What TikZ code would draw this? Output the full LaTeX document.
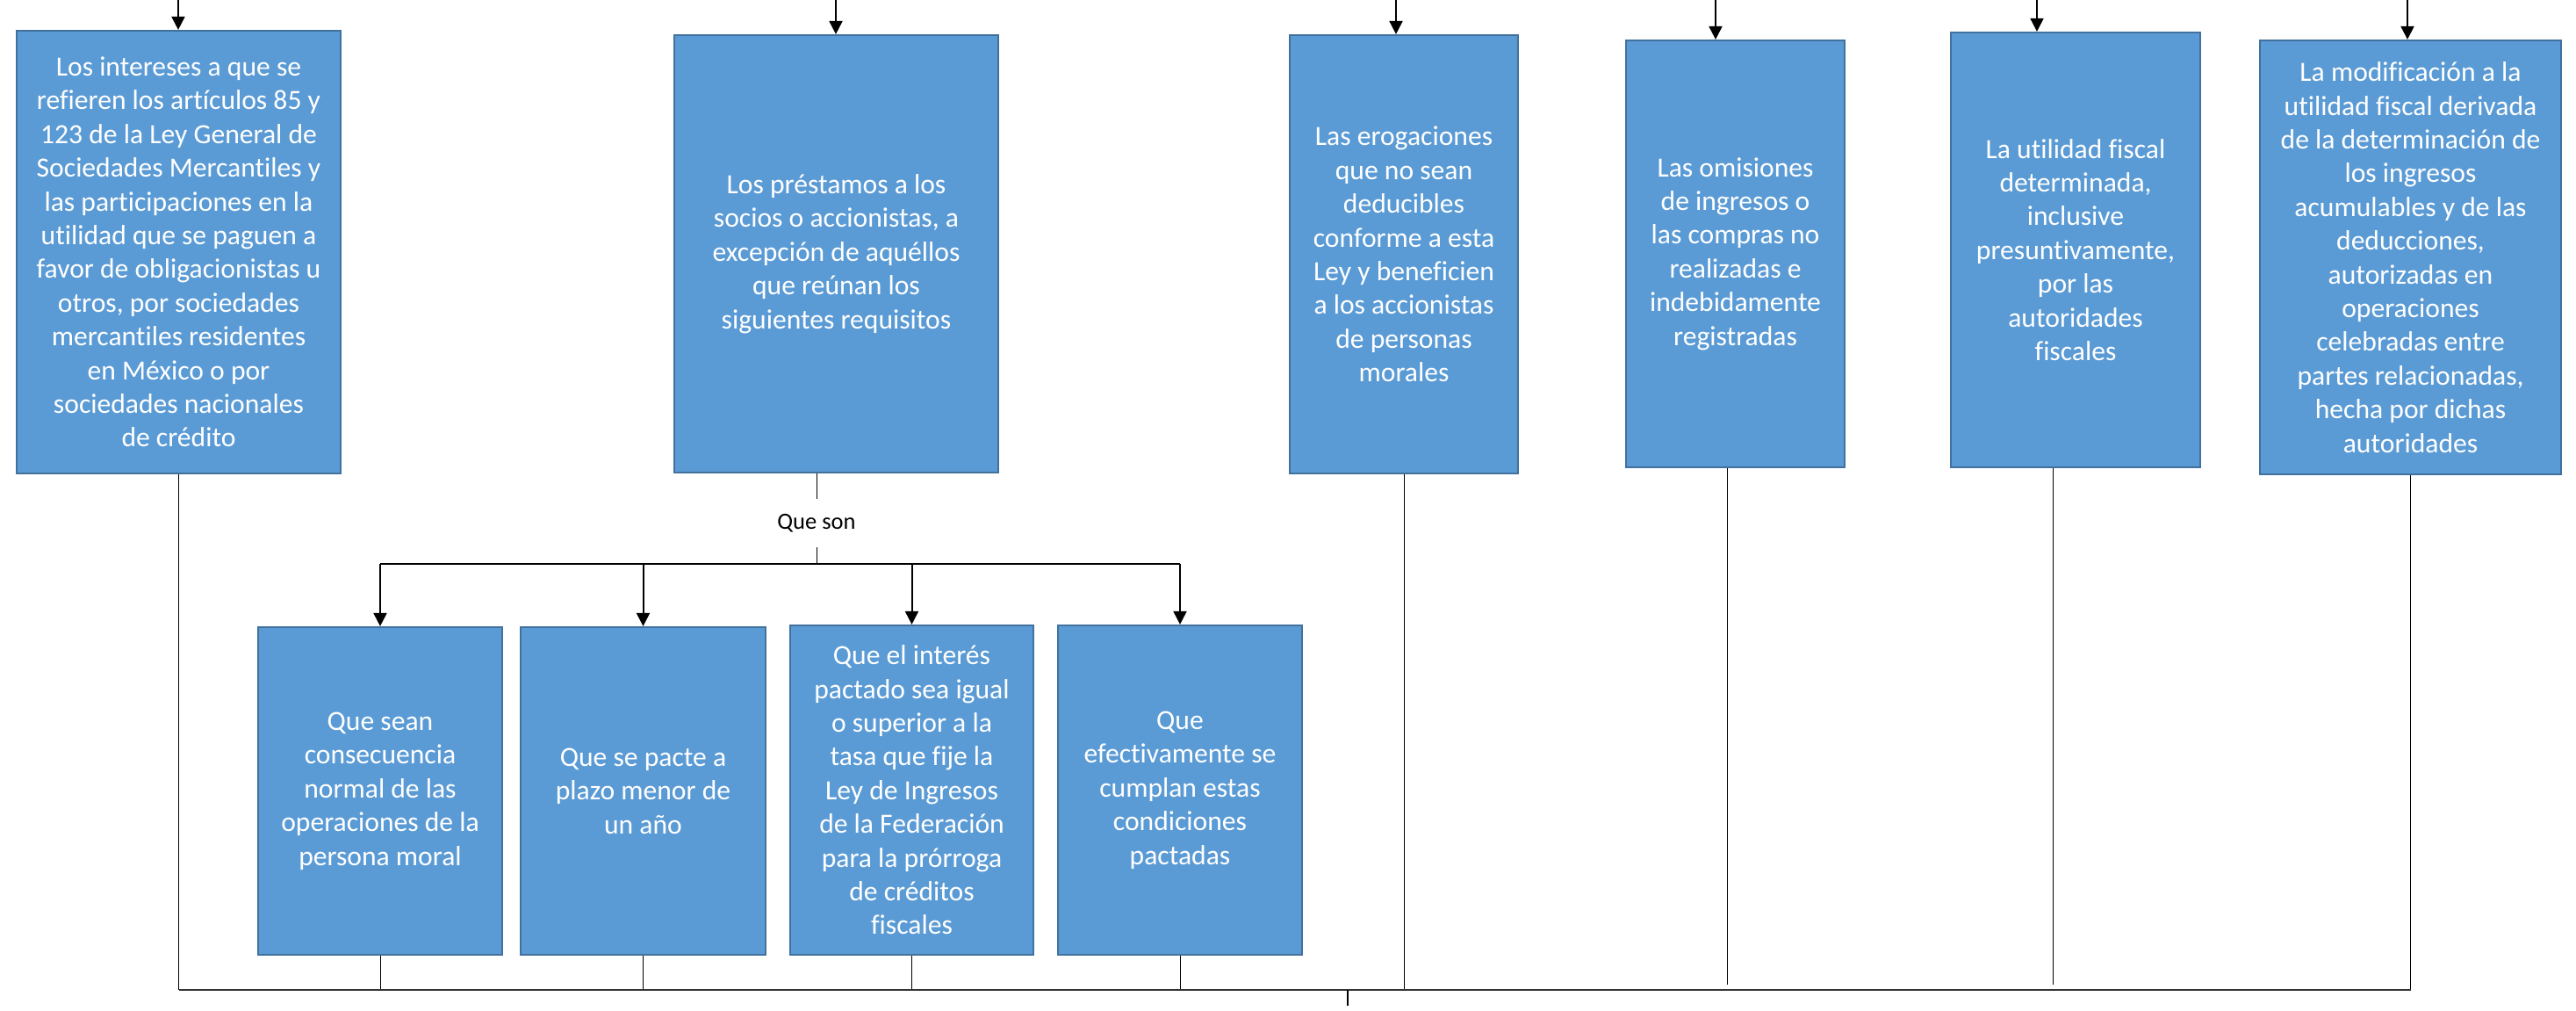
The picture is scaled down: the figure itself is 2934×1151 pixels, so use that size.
\documentclass[tikz,border=0pt]{standalone}
\usepackage{fontspec}
\setmainfont{Carlito}[Ligatures=NoCommon]
\usetikzlibrary{arrows.meta}
\definecolor{boxfill}{HTML}{5B9BD5}
\definecolor{boxline}{HTML}{41719C}
\tikzset{
  x=1pt,y=-1pt,
  blk/.style={rectangle,draw=boxline,line width=2.2pt,fill=boxfill,text=white,
    inner sep=0pt,align=center,font=\fontsize{31.6}{38.4}\selectfont},
  arr/.style={line width=2pt,-{Triangle[width=15pt,length=15pt]}},
  dist/.style={line width=2pt},
  thinln/.style={line width=1pt},
  botln/.style={line width=1.5pt,black!80},
  stub/.style={line width=2.8pt},
  lbl/.style={inner sep=0pt,minimum height=55pt,font=\fontsize{26.5}{32}\selectfont}
}
\begin{document}
\begin{tikzpicture}
\useasboundingbox (0,0) rectangle (2934,1151);
% top row
\node[blk,minimum width=369,minimum height=504] (b1) at (203.5,287) {Los intereses a que se\\refieren los artículos 85 y\\123 de la Ley General de\\Sociedades Mercantiles y\\las participaciones en la\\utilidad que se paguen a\\favor de obligacionistas u\\otros, por sociedades\\mercantiles residentes\\en México o por\\sociedades nacionales\\de crédito};
\node[blk,minimum width=369,minimum height=498] (b2) at (952.5,289) {Los préstamos a los\\socios o accionistas, a\\excepción de aquéllos\\que reúnan los\\siguientes requisitos};
\node[blk,minimum width=260,minimum height=499] (b3) at (1599,289.5) {Las erogaciones\\que no sean\\deducibles\\conforme a esta\\Ley y beneficien\\a los accionistas\\de personas\\morales};
\node[blk,minimum width=249,minimum height=486] (b4) at (1976.5,289) {Las omisiones\\de ingresos o\\las compras no\\realizadas e\\indebidamente\\registradas};
\node[blk,minimum width=284,minimum height=495] (b5) at (2364,284.5) {La utilidad fiscal\\determinada,\\inclusive\\presuntivamente,\\por las\\autoridades\\fiscales};
\node[blk,minimum width=343,minimum height=494] (b6) at (2745.5,293) {La modificación a la\\utilidad fiscal derivada\\de la determinación de\\los ingresos\\acumulables y de las\\deducciones,\\autorizadas en\\operaciones\\celebradas entre\\partes relacionadas,\\hecha por dichas\\autoridades};
% sub row
\node[blk,minimum width=278,minimum height=373] (s1) at (433,900.5) {Que sean\\consecuencia\\normal de las\\operaciones de la\\persona moral};
\node[blk,minimum width=279,minimum height=373] (s2) at (732.5,900.5) {Que se pacte a\\plazo menor de\\un año};
\node[blk,minimum width=277,minimum height=375] (s3) at (1038.5,899.5) {Que el interés\\pactado sea igual\\o superior a la\\tasa que fije la\\Ley de Ingresos\\de la Federación\\para la prórroga\\de créditos\\fiscales};
\node[blk,minimum width=278,minimum height=375] (s4) at (1344,899.5) {Que\\efectivamente se\\cumplan estas\\condiciones\\pactadas};
% label
\node[lbl] (qs) at (930,595.5) {Que son};
% top incoming arrows
\coordinate (t1) at (203,0);
\coordinate (t2) at (952,0);
\coordinate (t3) at (1590,0);
\coordinate (t4) at (1954,0);
\coordinate (t5) at (2320,0);
\coordinate (t6) at (2742,0);
\draw[arr] (t1) -- (t1 |- b1.north);
\draw[arr] (t2) -- (t2 |- b2.north);
\draw[arr] (t3) -- (t3 |- b3.north);
\draw[arr] (t4) -- (t4 |- b4.north);
\draw[arr] (t5) -- (t5 |- b5.north);
\draw[arr] (t6) -- (t6 |- b6.north);
% que son branch
\coordinate (dl) at (0,642);
\draw[thinln] (b2.south -| qs.north) -- (qs.north);
\draw[thinln] (qs.south) -- (qs.south |- dl);
\draw[dist] (s1.north |- dl) -- (s4.north |- dl);
\foreach \s in {s1,s2,s3,s4} \draw[arr] (\s.north |- dl) -- (\s.north);
% return lines
\coordinate (bl) at (0,1127);
\coordinate (bl2) at (0,1121);
\path ([xshift=-9.5pt]b4.south) coordinate (b4s);
\path ([xshift=-26pt]b5.south) coordinate (b5s);
\draw[thinln] (b1.south) -- (b1.south |- bl);
\foreach \s in {s1,s2,s3,s4} \draw[thinln] (\s.south) -- (\s.south |- bl);
\draw[thinln] (b3.south) -- (b3.south |- bl);
\draw[thinln] (b4s) -- (b4s |- bl2);
\draw[thinln] (b5s) -- (b5s |- bl2);
\draw[thinln] (b6.south) -- (b6.south |- bl);
\draw[botln] (b1.south |- bl) -- (b6.south |- bl);
\coordinate (fin) at (1535,1145);
\draw[stub] (fin |- bl) -- (fin);
\end{tikzpicture}
\end{document}
